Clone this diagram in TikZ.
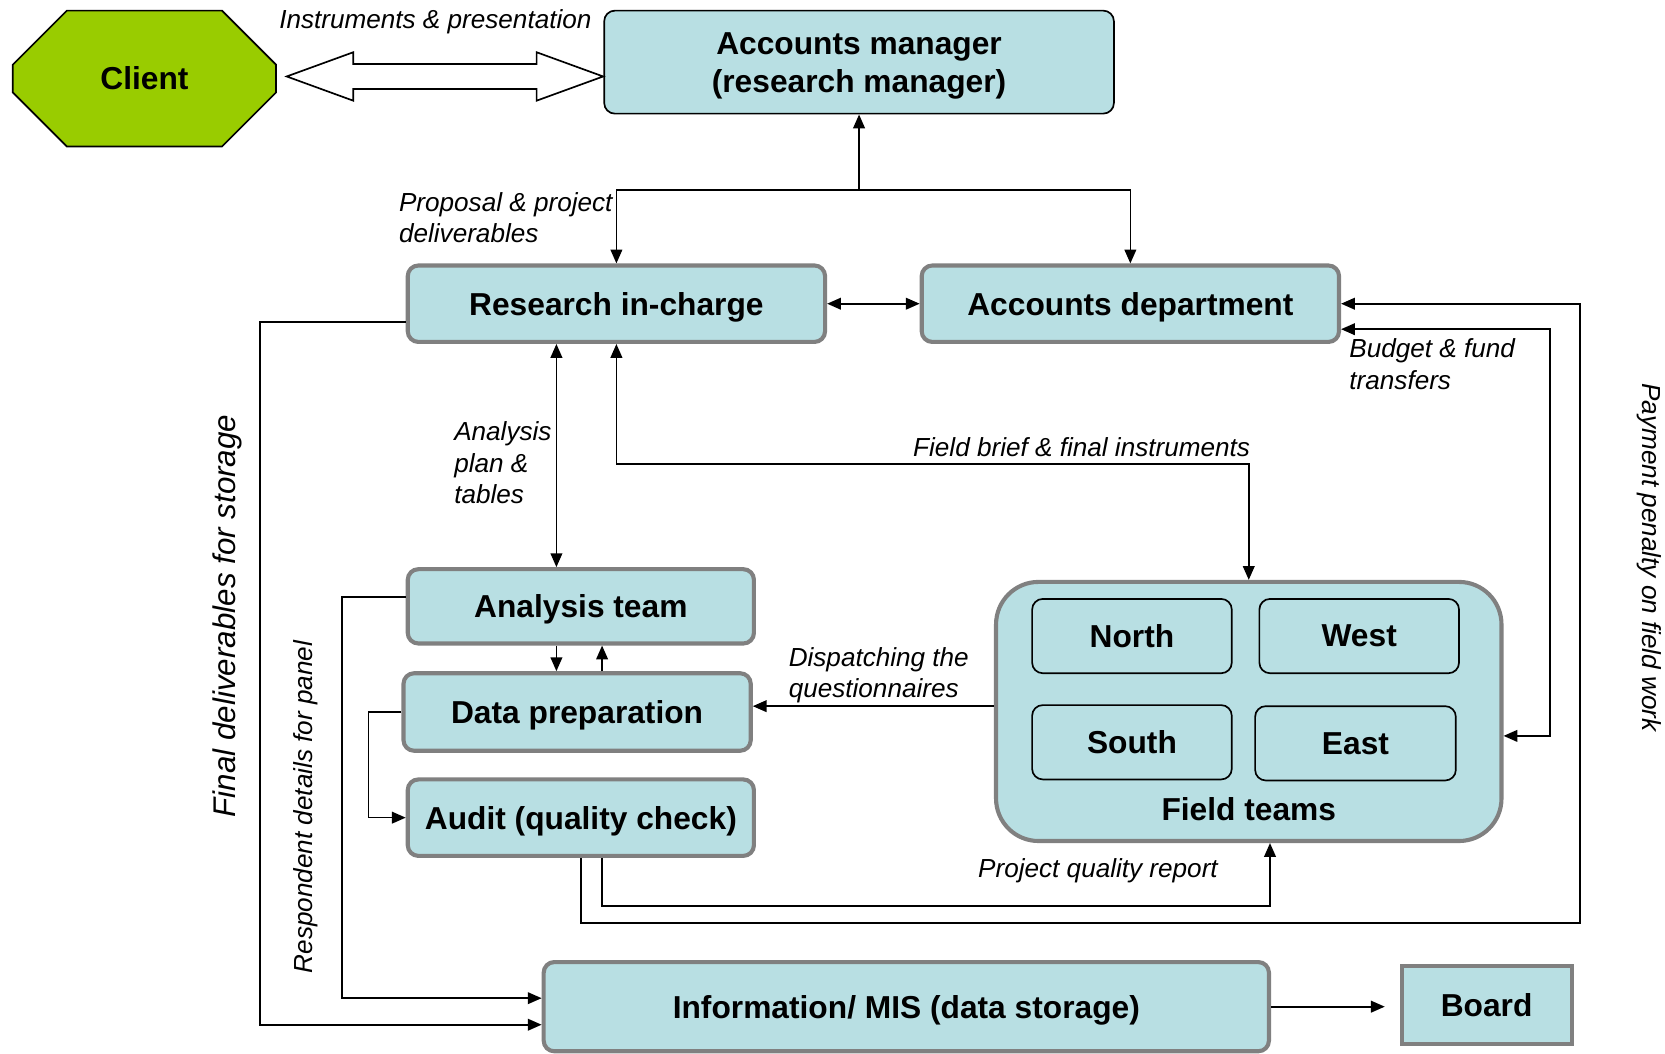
\documentclass[tikz,border=0pt]{standalone}
\usepackage{fontspec}
\setmainfont{Liberation Sans}
\usetikzlibrary{arrows.meta}
\usetikzlibrary{shapes.misc}
\usetikzlibrary{shapes.arrows}

\definecolor{boxblue}{HTML}{B8DFE3}
\definecolor{boxgray}{HTML}{808080}
\definecolor{clientgreen}{HTML}{99CC00}

\begin{document}
\begin{tikzpicture}[
        >={Triangle[length=1.3mm,width=1.1mm]},
        line width=0.45pt,
        box/.style={draw=boxgray, line width=1.1pt, fill=boxblue, rounded corners=1mm,
            font=\fontsize{8.5}{10.2}\selectfont\bfseries, align=center, inner sep=0pt, text depth=0pt},
        region/.style={draw, line width=0.45pt, fill=boxblue, rounded corners=1mm,
            minimum width=1.88cm, minimum height=0.70cm,
            font=\fontsize{8.5}{10.2}\selectfont\bfseries, inner sep=0pt, text depth=0pt},
        lbl/.style={font=\fontsize{7}{8.4}\selectfont\itshape, align=left, inner sep=0pt}
    ]
        \useasboundingbox (0,0) rectangle (15.68,-9.92);

        % top row
        \draw (1.36,-0.74) node[chamfered rectangle, draw, fill=clientgreen, minimum width=2.48cm, minimum height=1.28cm,
            chamfered rectangle xsep=0.38cm, chamfered rectangle ysep=0.40cm, inner sep=0pt,
            font=\fontsize{8.5}{10.2}\selectfont\bfseries] (client) {Client};
        \draw (8.09,-0.585) node[box, draw=black, line width=0.45pt, minimum width=4.80cm, minimum height=0.97cm] (am) {Accounts manager\\(research manager)};
        \draw (4.19,-0.72) node[double arrow, draw, fill=white, minimum height=2.98cm, inner xsep=0pt, inner ysep=0.11cm,
            double arrow head extend=0.11cm, double arrow tip angle=40] (exchange) {};
        \node[lbl] (instr) at (4.10,-0.20) {Instruments \& presentation};

        % research and accounts
        \draw (5.805,-2.86) node[box, minimum width=3.93cm, minimum height=0.72cm] (ric) {Research in-charge};
        \draw (10.645,-2.86) node[box, minimum width=3.93cm, minimum height=0.72cm] (ad) {Accounts department};

        % processing
        \draw (5.47,-5.71) node[box, minimum width=3.26cm, minimum height=0.70cm] (at) {Analysis team};
        \draw (5.435,-6.705) node[box, minimum width=3.27cm, minimum height=0.73cm] (dp) {Data preparation};
        \draw (5.47,-7.70) node[box, minimum width=3.26cm, minimum height=0.72cm] (audit) {Audit (quality check)};

        % field teams
        \draw (11.76,-6.70) node[box, rounded corners=4mm, minimum width=4.76cm, minimum height=2.44cm] (ft) {};
        \draw (10.66,-5.99) node[region] (north) {North};
        \draw (12.80,-5.99) node[region] (west) {West};
        \draw (10.66,-6.99) node[region] (south) {South};
        \draw (12.765,-7.00) node[region, minimum width=1.89cm] (east) {East};
        \node[font=\fontsize{8.5}{10.2}\selectfont\bfseries] (ftname) at (11.76,-7.62) {Field teams};

        % storage
        \draw (8.535,-9.48) node[box, minimum width=6.83cm, minimum height=0.84cm] (mis) {Information/ MIS (data storage)};
        \draw (14.00,-9.465) node[box, rounded corners=0pt, minimum width=1.60cm, minimum height=0.73cm] (board) {Board};

        % connectors
        \coordinate (split) at (8.09,-1.79);
        \draw[->] (split) -- (am);
        \draw[->] (split) -| (ric);
        \draw[->] (split) -| (ad);
        \draw[<->] (ric) -- (ad);
        \draw[<->] (5.24,0 |- ric.south) -- (5.24,0 |- at.north);
        \draw[<->] (ric.south) -- ++(0,-1.13) -| (ft.north);
        \draw[->] (5.24,0 |- at.south) -- (5.24,0 |- dp.north);
        \draw[->] (5.67,0 |- dp.north) -- (5.67,0 |- at.south);
        \draw[->] (dp.west) -- ++(-0.31,0) |- (audit.west);
        \draw[->] ([yshift=0.05cm]ft.west) -- ([yshift=0.05cm]ft.west -| dp.east);
        \draw[->] (5.67,0 |- audit.south) -- ++(0,-0.45) -| ([xshift=0.20cm]ft.south);
        \draw[->] (audit.south) -- ++(0,-0.61) -| ([xshift=2.25cm]ad.east) -- (ad.east);
        \draw[<->] ([yshift=-0.24cm]ad.east) -- ++(1.97,0) |- ([yshift=-0.23cm]ft.east);
        \draw[->] ([yshift=-0.17cm]ric.west) -- ++(-1.37,0) |- ([yshift=-0.17cm]mis.west);
        \draw[->] ([yshift=0.09cm]at.west) -- ++(-0.60,0) |- ([yshift=0.08cm]mis.west);
        \draw[->, shorten >=1.4mm] (mis.east) -- (mis.east -| board.west);

        % labels
        \node[lbl, anchor=west] (proplbl) at (3.75,-2.05) {Proposal \& project\\deliverables};
        \node[lbl, anchor=west] (planlbl) at (4.27,-4.36) {Analysis\\plan \&\\tables};
        \node[lbl, anchor=east] (brieflbl) at (11.78,-4.21) {Field brief \& final instruments};
        \node[lbl, anchor=west] (dispatchlbl) at (7.42,-6.36) {Dispatching the\\questionnaires};
        \node[lbl, anchor=west] (budgetlbl) at (12.70,-3.43) {Budget \& fund\\transfers};
        \node[lbl] (qualitylbl) at (10.34,-8.20) {Project quality report};
        \node[lbl, font=\fontsize{8.4}{10}\selectfont\itshape, rotate=90] (finallbl) at (2.14,-5.80) {Final deliverables for storage};
        \node[lbl, rotate=90] (panellbl) at (2.88,-7.60) {Respondent details for panel};
        \node[lbl, rotate=-90] (penaltylbl) at (15.53,-5.25) {Payment penalty on field work};
    \end{tikzpicture}
\end{document}
